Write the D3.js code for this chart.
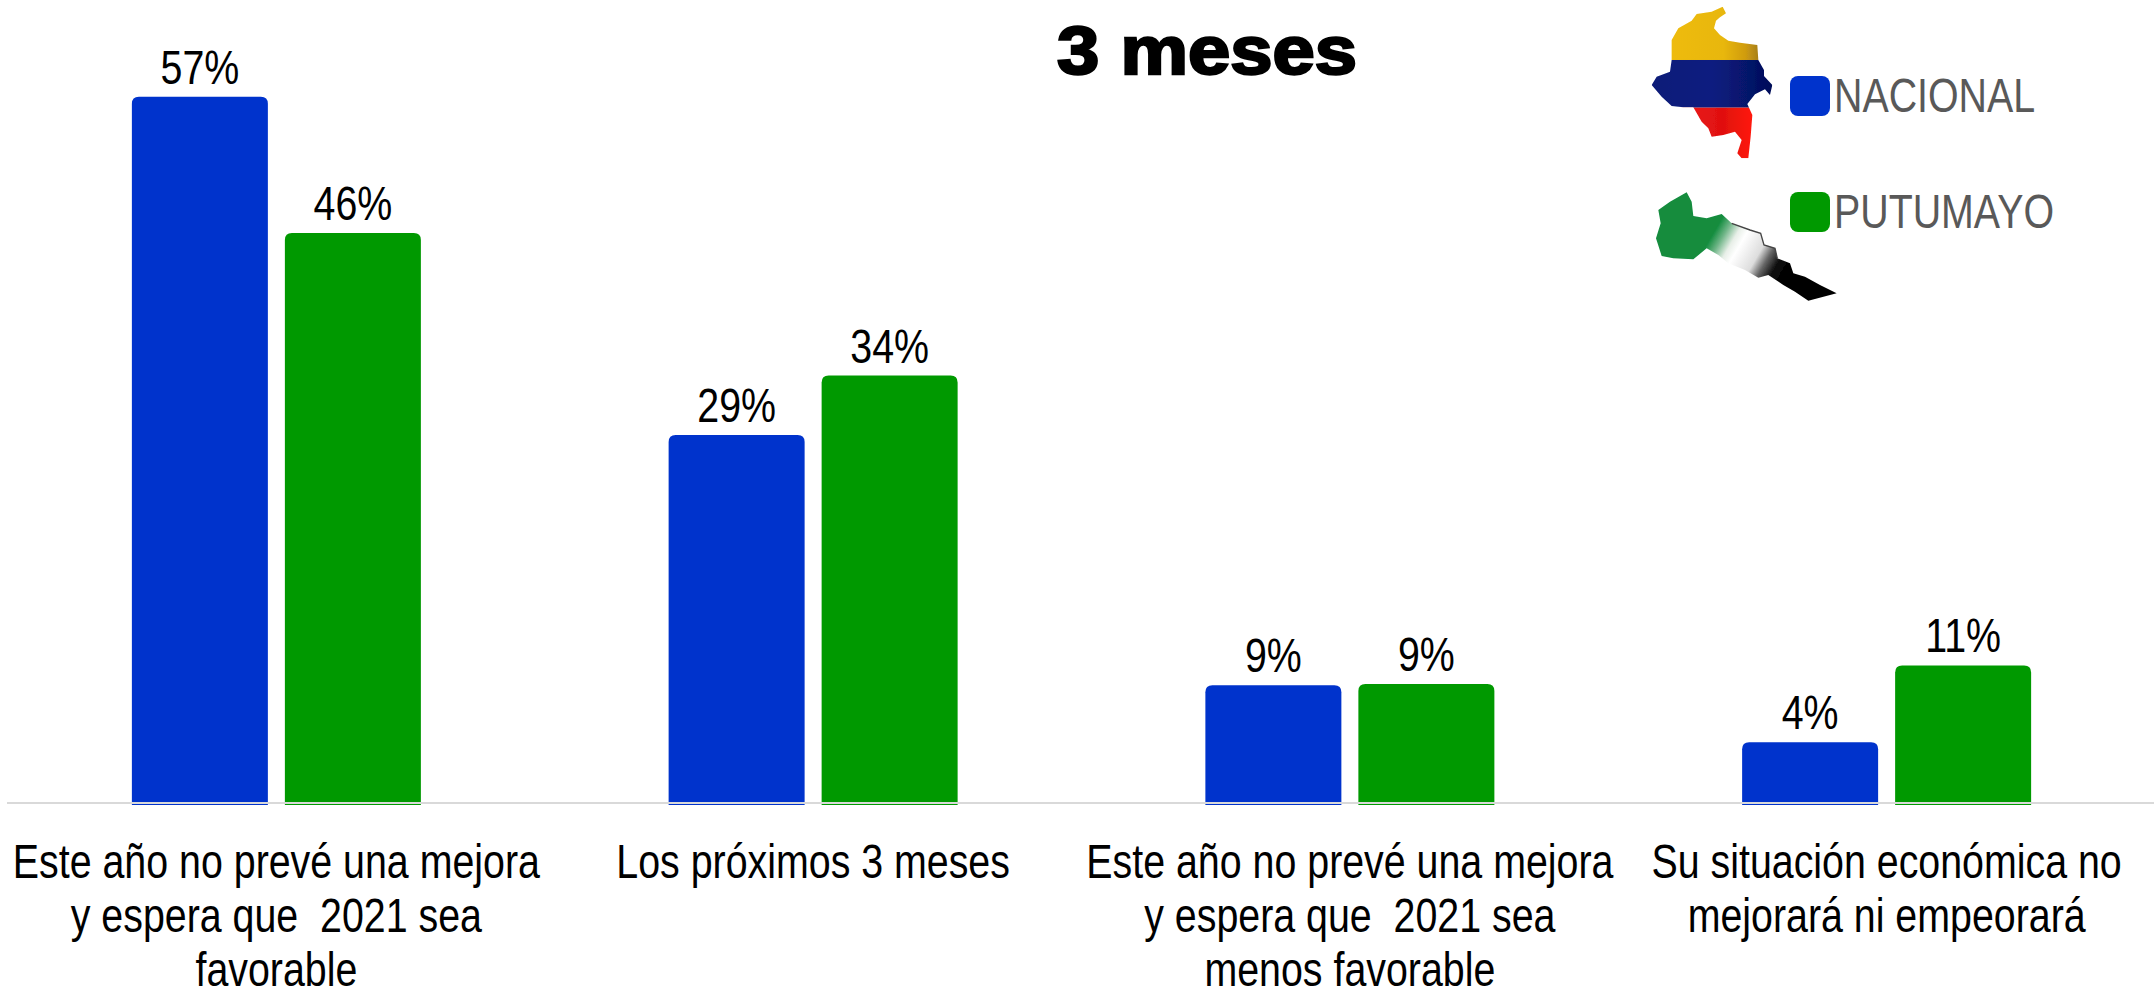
<!DOCTYPE html>
<html lang="es">
<head>
<meta charset="utf-8">
<title>3 meses</title>
<script src="https://cdn.jsdelivr.net/npm/d3@7"></script>
<style>
html,body{margin:0;padding:0;background:#fff;overflow:hidden}
svg{display:block}
text{font-family:"Liberation Sans",Arial,sans-serif}
.tick text{white-space:pre}
</style>
</head>
<body>
<svg id="chart" width="2154" height="991"></svg>
<script>
// ---- data ----
const titleText = "3 meses";
const categories = [
  "Este año no prevé una mejora\ny espera que  2021 sea\nfavorable",
  "Los próximos 3 meses",
  "Este año no prevé una mejora\ny espera que  2021 sea\nmenos favorable",
  "Su situación económica no\nmejorará ni empeorará"
];
const seriesNames = ["NACIONAL", "PUTUMAYO"];
const seriesColors = ["#0033cc", "#009900"];
// bar heights
const nacionalValues = [57, 29.7, 9.5, 4.9];
const putumayoValues = [46, 34.5, 9.6, 11.1];
// printed labels
const nacionalLabels = ["57%", "29%", "9%", "4%"];
const putumayoLabels = ["46%", "34%", "9%", "11%"];

// decorative map silhouettes (outlines, 3x units)
const colombiaOutline = [[248,20],[258,40],[240,52],[228,62],[222,85],[240,105],[265,122],[300,128],[352,135],[355,180],[372,210],[372,228],[397,255],[390,285],[375,268],[345,283],[322,312],[337,345],[332,410],[325,475],[305,475],[292,460],[305,420],[285,395],[250,405],[215,410],[205,385],[185,365],[160,322],[130,322],[95,318],[65,290],[35,255],[50,230],[90,215],[95,180],[95,120],[115,85],[155,62],[170,42],[215,35]];
const putumayoOutline = [[140,37],[155,65],[160,108],[200,115],[245,102],[275,130],[330,150],[362,160],[372,195],[405,205],[412,235],[450,250],[460,280],[495,290],[540,315],[590,340],[505,362],[465,335],[430,315],[385,285],[355,293],[315,270],[265,250],[235,225],[200,205],[160,238],[100,235],[65,228],[48,175],[62,130],[55,90],[90,65]];
const putumayoUpperEdge = [[275,130],[330,150],[362,160],[372,195],[405,205],[412,235]];

// ---- scales ----
const svg = d3.select("#chart");
const baseline = 803;
const textFontSize = 48, narrow = 0.82;
const x0 = d3.scaleBand().domain(categories).range([8, 2155]);
const x1 = d3.scaleBand().domain(seriesNames).range([0, x0.bandwidth()])
  .paddingInner(17 / 153).paddingOuter(0.8096);
const y = d3.scaleLinear().domain([0, 60]).range([baseline, baseline - 743.4]);
const color = d3.scaleOrdinal().domain(seriesNames).range(seriesColors);

const rows = categories.flatMap((c, i) => [
  {cat: c, s: seriesNames[0], v: nacionalValues[i], label: nacionalLabels[i]},
  {cat: c, s: seriesNames[1], v: putumayoValues[i], label: putumayoLabels[i]}
]);

// ---- bars ----
function barPath(d) {
  const l = x0(d.cat) + x1(d.s), w = x1.bandwidth(), t = y(d.v), b = y(0) + 2, r = 7;
  return `M${l},${b}V${t + r}Q${l},${t} ${l + r},${t}H${l + w - r}Q${l + w},${t} ${l + w},${t + r}V${b}Z`;
}
svg.append("g").selectAll("path").data(rows).join("path")
  .attr("d", barPath)
  .attr("fill", d => color(d.s));

// ---- value labels ----
svg.append("g").selectAll("text").data(rows).join("text")
  .attr("transform", d => `translate(${x0(d.cat) + x1(d.s) + x1.bandwidth() / 2},${y(d.v) - 13}) scale(${narrow},1)`)
  .attr("text-anchor", "middle")
  .attr("font-size", textFontSize)
  .attr("fill", "#000")
  .text(d => d.label);

// ---- axis ----
const axisG = svg.append("g")
  .attr("transform", `translate(0,${baseline})`)
  .call(d3.axisBottom(x0).tickSize(0).tickSizeOuter(0));
axisG.select(".domain")
  .attr("stroke", "#d9d9d9").attr("stroke-width", 2)
  .attr("d", "M7,0H2154");
axisG.selectAll(".tick text").each(function (d) {
  const t = d3.select(this).text(null)
    .attr("font-size", textFontSize).attr("fill", "#000")
    .attr("transform", `scale(${narrow},1)`)
    .attr("y", null).attr("dy", null);
  d.split("\n").forEach((line, i) => {
    t.append("tspan").attr("x", 0).attr("y", 75 + i * 54).text(line);
  });
});
axisG.attr("font-family", null).attr("font-size", null);

// ---- title ----
svg.append("text")
  .attr("x", 1057).attr("y", 74)
  .attr("font-size", 68).attr("font-weight", "bold")
  .attr("fill", "#000").attr("stroke", "#000").attr("stroke-width", 2.5)
  .attr("textLength", 300).attr("lengthAdjust", "spacingAndGlyphs")
  .text(titleText);

// ---- legend ----
const legendY = d3.scalePoint().domain(seriesNames).range([76, 192]);
const legend = svg.append("g").selectAll("g").data(seriesNames).join("g")
  .attr("transform", d => `translate(1790,${legendY(d)})`);
legend.append("rect").attr("width", 40).attr("height", 40).attr("rx", 8)
  .attr("fill", d => color(d));
legend.append("text").attr("transform", `translate(44,36) scale(${narrow},1)`)
  .attr("font-size", textFontSize).attr("fill", "#595959").text(d => d);

// ---- decorative maps ----
const defs = svg.append("defs");
defs.append("filter").attr("id", "soft").append("feGaussianBlur").attr("stdDeviation", 1.8);
const outline = d3.line().curve(d3.curveLinearClosed);
defs.append("clipPath").attr("id", "colClip").append("path").attr("d", outline(colombiaOutline));

function gradient(id, attrs, stops) {
  const g = defs.append("linearGradient").attr("id", id).attr("gradientUnits", "userSpaceOnUse");
  Object.entries(attrs).forEach(([k, v]) => g.attr(k, v));
  stops.forEach(([o, c]) => g.append("stop").attr("offset", o).attr("stop-color", c));
}
gradient("yel", {x1: 95, y1: 0, x2: 355, y2: 0}, [[0, "#eebb0a"], [0.6, "#e8b70c"], [0.85, "#d09c10"], [1, "#a8801a"]]);
gradient("blu", {x1: 35, y1: 0, x2: 397, y2: 0}, [[0, "#0a1a78"], [0.5, "#0a1f80"], [0.8, "#06146a"], [1, "#030c58"]]);
gradient("red", {x1: 160, y1: 0, x2: 337, y2: 0}, [[0, "#e81616"], [0.5, "#e01010"], [1, "#ff1a10"]]);
gradient("put", {x1: 225, y1: 150, x2: 440, y2: 275},
  [[0, "#128c3e"], [0.12, "#6fb587"], [0.25, "#e8efe8"], [0.35, "#ffffff"], [0.6, "#dddddd"], [0.72, "#666666"], [0.85, "#111111"], [1, "#000000"]]);

const colLayer = svg.append("g").attr("transform", "translate(1640,0) scale(0.3333)").attr("filter", "url(#soft)");
const col = colLayer.append("g").attr("clip-path", "url(#colClip)");
[["yel", 0, 180], ["blu", 180, 143], ["red", 323, 170]].forEach(([g, ty, h]) => {
  col.append("rect").attr("x", 20).attr("y", ty).attr("width", 400).attr("height", h).attr("fill", `url(#${g})`);
});
const putLayer = svg.append("g").attr("transform", "translate(1640,180) scale(0.3333)").attr("filter", "url(#soft)");
putLayer.append("path").attr("d", outline(putumayoOutline)).attr("fill", "url(#put)");
putLayer.append("path").attr("d", d3.line()(putumayoUpperEdge))
  .attr("fill", "none").attr("stroke", "#444").attr("stroke-width", 4);
</script>
</body>
</html>
